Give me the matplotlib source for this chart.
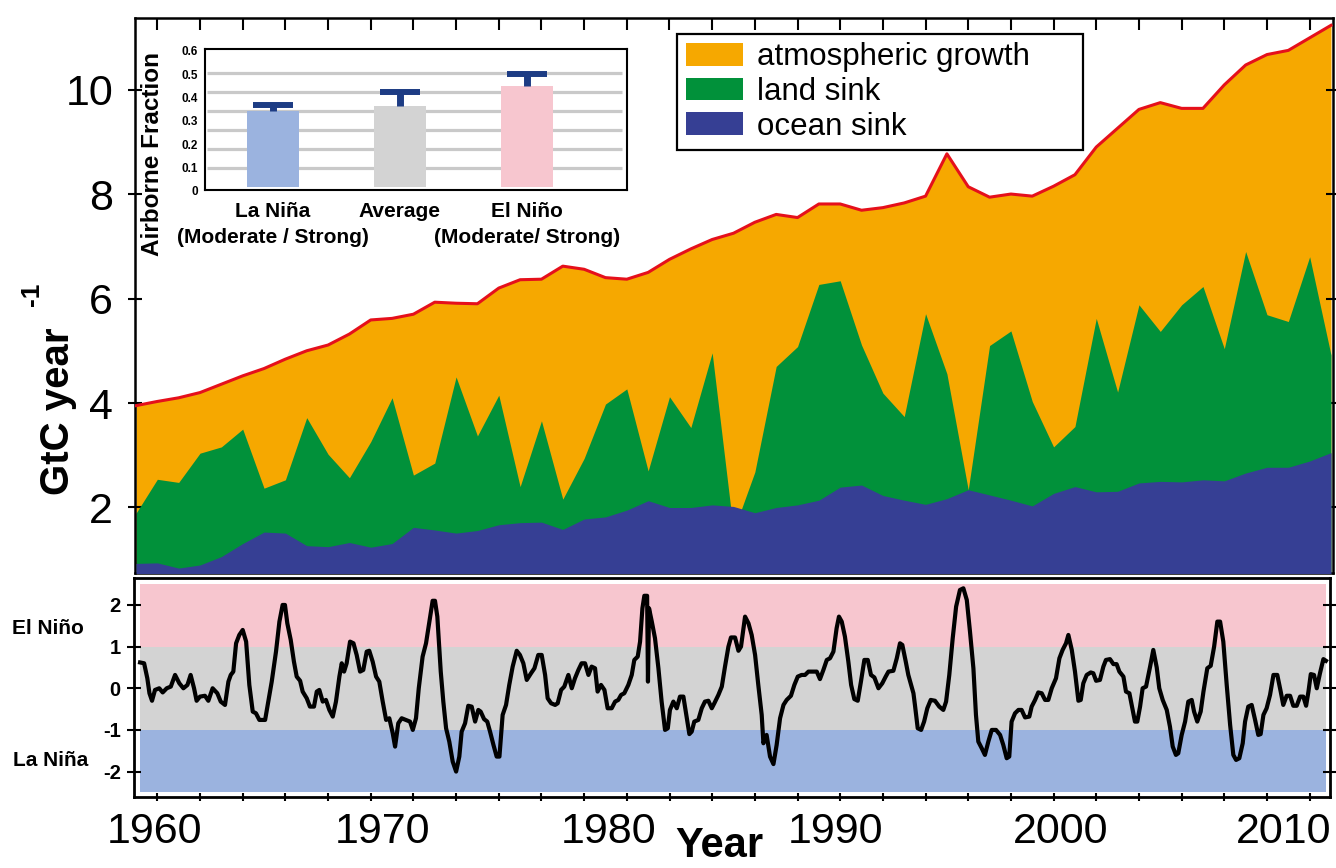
import numpy as np
import matplotlib
matplotlib.use('Agg')
import matplotlib.pyplot as plt
import matplotlib.transforms as mtransforms

plt.rcParams['font.family'] = ['Liberation Sans', 'DejaVu Sans']

# ---------------- data ----------------
years = list(range(1959, 2016))
ocean_sink = [0.93, 0.94, 0.84, 0.90, 1.06, 1.31, 1.53, 1.51, 1.27, 1.25,
              1.33, 1.24, 1.31, 1.62, 1.57, 1.51, 1.56, 1.67, 1.71, 1.72,
              1.58, 1.78, 1.82, 1.95, 2.13, 2.00, 2.00, 2.05, 2.02, 1.90,
              2.00, 2.05, 2.14, 2.39, 2.43, 2.23, 2.14, 2.06, 2.17, 2.34,
              2.24, 2.14, 2.03, 2.27, 2.40, 2.30, 2.31, 2.47, 2.50, 2.49,
              2.53, 2.51, 2.66, 2.77, 2.77, 2.89, 3.05]
land_sink = [0.96, 1.60, 1.64, 2.14, 2.10, 2.19, 0.84, 1.02, 2.45, 1.77,
             1.24, 2.02, 2.79, 1.00, 1.28, 2.99, 1.81, 2.48, 0.69, 1.94,
             0.58, 1.16, 2.16, 2.32, 0.57, 2.12, 1.53, 2.91, -0.47, 0.78,
             2.70, 3.03, 4.13, 3.95, 2.68, 1.96, 1.60, 3.65, 2.39, 0.00,
             2.86, 3.24, 2.00, 0.89, 1.15, 3.32, 1.90, 3.41, 2.87, 3.39,
             3.70, 2.53, 4.24, 2.92, 2.79, 3.91, 1.87]
atm_growth = [2.06, 1.49, 1.62, 1.16, 1.20, 1.02, 2.29, 2.31, 1.28, 2.09,
              2.75, 2.33, 1.52, 3.08, 3.08, 1.41, 2.53, 2.05, 3.96, 2.71,
              4.46, 3.62, 2.42, 2.10, 3.80, 2.63, 3.42, 2.17, 5.70, 4.78,
              2.91, 2.47, 1.54, 1.47, 2.58, 3.55, 4.09, 2.25, 4.21, 5.80,
              2.84, 2.62, 3.93, 4.99, 4.82, 3.28, 5.05, 3.74, 4.38, 3.76,
              3.41, 5.05, 3.57, 4.98, 5.19, 4.19, 6.31]
legend_labels = ['atmospheric growth', 'land sink', 'ocean sink']

enso_time = [
    1959.19, 1959.38, 1959.53, 1959.63, 1959.75, 1959.89, 1960.09, 1960.25, 1960.44, 1960.63,
    1960.83, 1961.03, 1961.22, 1961.41, 1961.56, 1961.72, 1961.84, 1962.00, 1962.23, 1962.39,
    1962.59, 1962.81, 1962.97, 1963.17, 1963.33, 1963.44, 1963.56, 1963.69, 1963.84, 1964.00,
    1964.16, 1964.31, 1964.47, 1964.62, 1964.78, 1965.05, 1965.20, 1965.36, 1965.56, 1965.72,
    1965.87, 1965.98, 1966.09, 1966.25, 1966.40, 1966.53, 1966.69, 1966.81, 1967.00, 1967.15,
    1967.34, 1967.47, 1967.59, 1967.75, 1967.90, 1968.06, 1968.22, 1968.37, 1968.53, 1968.64,
    1968.75, 1968.87, 1969.03, 1969.19, 1969.34, 1969.50, 1969.65, 1969.81, 1969.93, 1970.09,
    1970.25, 1970.40, 1970.56, 1970.72, 1970.87, 1971.03, 1971.14, 1971.29, 1971.45, 1971.65,
    1971.84, 1971.97, 1972.12, 1972.25, 1972.43, 1972.59, 1972.75, 1972.90, 1973.01, 1973.12,
    1973.28, 1973.40, 1973.53, 1973.68, 1973.84, 1974.00, 1974.15, 1974.26, 1974.42, 1974.57,
    1974.73, 1974.89, 1975.04, 1975.15, 1975.31, 1975.46, 1975.59, 1975.75, 1975.90, 1976.03,
    1976.18, 1976.34, 1976.49, 1976.65, 1976.84, 1976.99, 1977.15, 1977.31, 1977.51, 1977.67,
    1977.85, 1978.01, 1978.17, 1978.29, 1978.45, 1978.64, 1978.76, 1978.92, 1979.07, 1979.26,
    1979.42, 1979.57, 1979.73, 1979.88, 1980.04, 1980.20, 1980.35, 1980.51, 1980.63, 1980.79,
    1980.95, 1981.10, 1981.29, 1981.45, 1981.60, 1981.73, 1981.88, 1982.07, 1982.23, 1982.35,
    1982.51, 1982.62, 1982.73, 1982.82, 1982.95, 1982.99, 1983.04, 1983.17, 1983.32, 1983.48,
    1983.63, 1983.79, 1983.92, 1984.02, 1984.18, 1984.34, 1984.49, 1984.65, 1984.81, 1984.93,
    1985.04, 1985.16, 1985.35, 1985.51, 1985.66, 1985.82, 1985.98, 1986.10, 1986.29, 1986.45,
    1986.60, 1986.76, 1986.88, 1987.07, 1987.23, 1987.35, 1987.54, 1987.70, 1987.85, 1988.01,
    1988.16, 1988.32, 1988.40, 1988.55, 1988.71, 1988.87, 1989.02, 1989.18, 1989.34, 1989.49,
    1989.69, 1989.85, 1990.01, 1990.19, 1990.35, 1990.51, 1990.66, 1990.90, 1991.05, 1991.21,
    1991.37, 1991.52, 1991.68, 1991.83, 1991.94, 1992.07, 1992.22, 1992.38, 1992.51, 1992.66,
    1992.82, 1992.97, 1993.13, 1993.29, 1993.44, 1993.60, 1993.79, 1993.97, 1994.13, 1994.26,
    1994.49, 1994.65, 1994.80, 1994.91, 1995.07, 1995.19, 1995.32, 1995.43, 1995.50, 1995.63,
    1995.79, 1995.93, 1996.08, 1996.24, 1996.44, 1996.64, 1996.83, 1996.96, 1997.11, 1997.27,
    1997.43, 1997.61, 1997.77, 1997.93, 1998.08, 1998.24, 1998.36, 1998.47, 1998.63, 1998.78,
    1998.94, 1999.10, 1999.30, 1999.49, 1999.64, 1999.80, 1999.92, 2000.03, 2000.19, 2000.35,
    2000.50, 2000.66, 2000.86, 2000.97, 2001.13, 2001.28, 2001.44, 2001.60, 2001.75, 2001.91,
    2002.11, 2002.27, 2002.42, 2002.58, 2002.69, 2002.85, 2003.00, 2003.16, 2003.27, 2003.39,
    2003.55, 2003.74, 2003.86, 2003.99, 2004.17, 2004.33, 2004.45, 2004.64, 2004.80, 2004.95,
    2005.08, 2005.27, 2005.39, 2005.55, 2005.70, 2005.81, 2005.92, 2006.05, 2006.17, 2006.33,
    2006.52, 2006.67, 2006.83, 2006.95, 2007.11, 2007.30, 2007.45, 2007.58, 2007.73, 2007.84,
    2008.00, 2008.16, 2008.31, 2008.47, 2008.58, 2008.73, 2008.89, 2009.02, 2009.20, 2009.36,
    2009.52, 2009.67, 2009.80, 2009.95, 2010.11, 2010.27, 2010.42, 2010.55, 2010.70, 2010.86,
    2010.97, 2011.12, 2011.28, 2011.44, 2011.59, 2011.70, 2011.83, 2011.98, 2012.14, 2012.30,
    2012.48, 2012.64, 2012.76, 2012.92, 2013.08, 2013.23, 2013.39, 2013.55, 2013.70, 2013.83,
    2013.94, 2014.05, 2014.20, 2014.33, 2014.48, 2014.64, 2014.76]
enso_index = [
    0.62, 0.60, 0.24, -0.12, -0.30, -0.04, 0.00, -0.10, 0.00, 0.04,
    0.32, 0.12, 0.00, 0.08, 0.32, 0.00, -0.30, -0.20, -0.18, -0.30,
    0.00, -0.12, -0.32, -0.40, 0.16, 0.32, 0.40, 1.08, 1.28, 1.40,
    1.12, 0.08, -0.56, -0.60, -0.76, -0.76, -0.32, 0.16, 0.88, 1.60,
    2.00, 2.00, 1.56, 1.16, 0.64, 0.28, 0.18, -0.08, -0.24, -0.44,
    -0.44, -0.08, -0.04, -0.32, -0.28, -0.52, -0.68, -0.32, 0.28, 0.60,
    0.40, 0.60, 1.12, 1.08, 0.80, 0.40, 0.44, 0.88, 0.90, 0.64,
    0.28, 0.16, -0.32, -0.76, -0.72, -1.08, -1.40, -0.84, -0.72, -0.76,
    -0.80, -1.00, -0.72, 0.00, 0.76, 1.08, 1.60, 2.10, 2.10, 1.72,
    0.40, -0.32, -0.96, -1.28, -1.76, -2.00, -1.64, -1.04, -0.84, -0.42,
    -0.44, -0.80, -0.52, -0.56, -0.74, -0.80, -1.04, -1.36, -1.64, -1.64,
    -0.64, -0.40, 0.08, 0.52, 0.90, 0.80, 0.60, 0.20, 0.36, 0.48,
    0.80, 0.80, 0.32, -0.24, -0.36, -0.40, -0.36, -0.04, 0.04, 0.32,
    0.00, 0.24, 0.44, 0.60, 0.60, 0.32, 0.52, 0.48, -0.08, 0.08,
    -0.04, -0.48, -0.48, -0.32, -0.28, -0.16, -0.12, 0.08, 0.32, 0.68,
    0.76, 1.12, 1.92, 2.22, 2.22, 0.16, 1.92, 1.60, 1.20, 0.48,
    -0.32, -1.00, -0.96, -0.52, -0.32, -0.48, -0.20, -0.20, -0.72, -1.10,
    -1.04, -0.80, -0.76, -0.48, -0.32, -0.30, -0.48, -0.36, -0.16, 0.04,
    0.52, 1.00, 1.22, 1.22, 0.90, 1.00, 1.72, 1.56, 1.28, 0.80,
    0.08, -0.64, -1.32, -1.12, -1.64, -1.82, -1.36, -0.72, -0.40, -0.28,
    -0.18, 0.08, 0.28, 0.32, 0.32, 0.40, 0.40, 0.40, 0.22, 0.44,
    0.68, 0.72, 0.88, 1.44, 1.72, 1.60, 1.24, 0.64, 0.08, -0.26,
    -0.30, 0.16, 0.68, 0.68, 0.32, 0.26, 0.00, 0.12, 0.28, 0.40,
    0.42, 0.72, 1.08, 1.04, 0.64, 0.32, 0.08, -0.12, -0.40, -0.96,
    -1.00, -0.80, -0.48, -0.28, -0.30, -0.44, -0.52, -0.32, 0.32, 1.20,
    1.96, 2.36, 2.40, 2.12, 1.36, 0.48, -0.64, -1.28, -1.44, -1.60,
    -1.28, -1.00, -1.00, -1.12, -1.36, -1.68, -1.64, -0.80, -0.60, -0.52,
    -0.52, -0.70, -0.68, -0.44, -0.28, -0.10, -0.12, -0.28, -0.28, 0.00,
    0.24, 0.72, 0.92, 1.08, 1.28, 0.92, 0.40, -0.30, -0.28, 0.12,
    0.32, 0.38, 0.36, 0.18, 0.20, 0.52, 0.68, 0.70, 0.58, 0.58,
    0.40, 0.28, -0.08, -0.12, -0.52, -0.80, -0.80, -0.44, 0.00, 0.04,
    0.52, 0.92, 0.50, 0.00, -0.28, -0.52, -0.92, -1.40, -1.60, -1.56,
    -1.12, -0.80, -0.32, -0.28, -0.56, -0.80, -0.56, -0.08, 0.48, 0.54,
    1.00, 1.60, 1.60, 1.12, 0.08, -0.88, -1.60, -1.72, -1.68, -1.32,
    -0.80, -0.44, -0.40, -0.76, -1.12, -1.10, -0.64, -0.48, -0.16, 0.32,
    0.32, -0.08, -0.40, -0.18, -0.18, -0.42, -0.42, -0.20, -0.20, -0.42,
    -0.08, 0.34, 0.32, 0.00, 0.36, 0.70, 0.66]
enso_threshold = 1.0
enso_band_extent = 2.5

airborne_cats = ['La Niña', 'Average', 'El Niño']
airborne_sub = ['(Moderate / Strong)', '', '(Moderate/ Strong)']
airborne_frac = [0.400, 0.429, 0.532]
airborne_err = [0.031, 0.071, 0.063]
inset_grid_vals = [0.1, 0.2, 0.3, 0.4, 0.5, 0.6]
inset_tick_labels = ['0', '0.1', '0.2', '0.3', '0.4', '0.5', '0.6']
inset_tick_pos = [-0.030, 0.094, 0.217, 0.341, 0.465, 0.588, 0.712]

decade_labels = ['1960', '1970', '1980', '1990', '2000', '2010']
decade_pos = [1959.85, 1970.55, 1981.15, 1991.80, 2002.35, 2012.80]

# ---------------- colours ----------------
C_ATM = '#F6A800'
C_LAND = '#01913A'
C_OCEAN = '#363F94'
C_RED = '#E5101B'
C_PINK = '#F7C6CF'
C_GRAY = '#D3D3D3'
C_BLUE = '#9BB3DF'
C_ERR = '#1D3C84'

fig = plt.figure(figsize=(13.36, 8.68), dpi=100)

# ---------------- main panel ----------------
ax = fig.add_axes([0.10105, 0.34021, 0.89671, 0.63906])
yrs = np.array(years, dtype=float)
ocean = np.array(ocean_sink)
land_top = ocean + np.array(land_sink)
total = land_top + np.array(atm_growth)

h_atm = ax.fill_between(yrs, 0, total, color=C_ATM, lw=0, zorder=1)
h_land = ax.fill_between(yrs, 0, land_top, color=C_LAND, lw=0, zorder=2)
h_ocean = ax.fill_between(yrs, 0, ocean, color=C_OCEAN, lw=0, zorder=3)
ax.plot(yrs, total, color=C_RED, lw=2.2, zorder=4)

ax.set_xlim(1958.953, 2015.094)
ax.set_ylim(0.752, 11.37)
ax.set_yticks([2, 4, 6, 8, 10])
ax.set_yticklabels(['2', '4', '6', '8', '10'])
ax.set_xticks(np.arange(1960, 2015, 2))
ax.tick_params(axis='y', left=True, right=True, direction='inout', length=9.5,
               width=1.5, pad=11, labelsize=31)
ax.tick_params(axis='x', top=True, bottom=False, labelbottom=False,
               direction='in', length=8.5, width=1.5)
for s in ax.spines.values():
    s.set_linewidth(1.8)

leg = ax.legend([h_atm, h_land, h_ocean], legend_labels, loc='upper left',
                bbox_to_anchor=(0.4524, 0.5, 0.3389, 0.4719), mode='expand',
                borderaxespad=0, fontsize=22.5, handlelength=1.82,
                handleheight=0.74, handletextpad=0.47, borderpad=0.28,
                labelspacing=0.15, fancybox=False, framealpha=1)
leg.get_frame().set_edgecolor('black')
leg.get_frame().set_linewidth(1.6)

fig.text(0.0434, 0.5259, 'GtC year', rotation=90, ha='center', va='center',
         fontsize=29, fontweight='bold')
fig.text(0.0243, 0.6613, '-1', rotation=90, ha='center', va='center',
         fontsize=19, fontweight='bold')

# ---------------- ENSO panel ----------------
ax2 = fig.add_axes([0.10030, 0.08180, 0.89521, 0.25196])
t_span = [enso_time[0], enso_time[-1]]
ax2.fill_between(t_span, -enso_band_extent, -enso_threshold, color=C_BLUE, lw=0)
ax2.fill_between(t_span, -enso_threshold, enso_threshold, color=C_GRAY, lw=0)
ax2.fill_between(t_span, enso_threshold, enso_band_extent, color=C_PINK, lw=0)
ax2.plot(enso_time, enso_index, color='black', lw=3.0, solid_joinstyle='round')
ax2.set_xlim(1958.906, 2014.95)
ax2.set_ylim(-2.61, 2.64)
ax2.set_yticks([-2, -1, 0, 1, 2])
ax2.set_yticklabels(['-2', '-1', '0', '1', '2'], fontweight='bold')
ax2.set_xticks(np.arange(1960, 2015, 2))
ax2.tick_params(axis='y', left=True, right=True, direction='inout', length=10,
                width=1.5, pad=4.5, labelsize=14.5)
ax2.tick_params(axis='x', bottom=True, labelbottom=False, direction='inout',
                length=6, width=1.5)
for s in ax2.spines.values():
    s.set_linewidth(2.0)

trans = mtransforms.blended_transform_factory(ax2.transData, fig.transFigure)
for pos, lab in zip(decade_pos, decade_labels):
    ax2.text(pos, 0.0288, lab, transform=trans, ha='center', va='baseline',
             fontsize=31)
fig.text(0.5382, 0.0125, 'Year', ha='center', va='baseline', fontsize=30,
         fontweight='bold')
fig.text(0.0359, 0.2696, 'El Niño', ha='center', va='baseline', fontsize=15,
         fontweight='bold')
fig.text(0.0382, 0.1175, 'La Niña', ha='center', va='baseline', fontsize=15,
         fontweight='bold')

# ---------------- inset ----------------
axi = fig.add_axes([0.15344, 0.78111, 0.31564, 0.16210])
axi.set_xlim(-0.535, 2.785)
axi.set_ylim(-0.0175, 0.728)
xc = np.arange(len(airborne_cats))
axi.hlines(inset_grid_vals, -0.522, 2.746, color='#C9C9C9', lw=2.3, zorder=1)
axi.bar(xc, airborne_frac, width=0.41, color=[C_BLUE, C_GRAY, C_PINK], zorder=2)
tops = np.array(airborne_frac) + np.array(airborne_err)
axi.vlines(xc, airborne_frac, tops, color=C_ERR, lw=5, zorder=3)
axi.hlines(tops, xc - 0.157, xc + 0.157, color=C_ERR, lw=4.3, zorder=3)
axi.set_yticks([])
axi.set_xticks(xc)
axi.set_xticklabels(airborne_cats, fontsize=15, fontweight='bold')
axi.tick_params(axis='x', length=0, pad=9)
tsub = mtransforms.blended_transform_factory(axi.transData, axi.transAxes)
for x, sub in zip(xc, airborne_sub):
    if sub:
        axi.text(x, -0.335, sub, transform=tsub, ha='center', va='center',
                 fontsize=15, fontweight='bold')
for s in axi.spines.values():
    s.set_linewidth(1.5)
ti = mtransforms.blended_transform_factory(axi.transAxes, axi.transData)
for pos, lab in zip(inset_tick_pos, inset_tick_labels):
    axi.text(-0.017, pos, lab, transform=ti, ha='right', va='center',
             fontsize=8.5, fontweight='bold')
fig.text(0.1145, 0.8226, 'Airborne Fraction', rotation=90, ha='center',
         va='center', fontsize=17.5, fontweight='bold')

fig.savefig('out.png', dpi=100)
